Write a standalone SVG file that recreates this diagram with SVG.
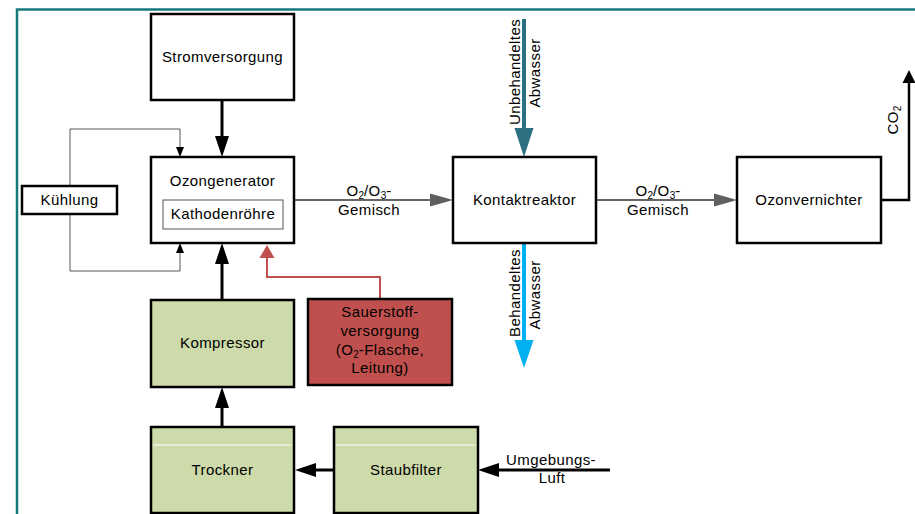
<svg xmlns="http://www.w3.org/2000/svg" width="915" height="514" viewBox="0 0 915 514">
<style>
text{font-family:"Liberation Sans",Arial,sans-serif;font-size:15px;letter-spacing:0.4px;fill:#000;text-anchor:middle}
.box{fill:#fff;stroke:#000;stroke-width:2.5}
.green{fill:#cddaa9;stroke:#000;stroke-width:2.5}
.red{fill:#c0504d;stroke:#000;stroke-width:2.5}
.inner{fill:#fff;stroke:#555;stroke-width:1}
.hl{stroke:#fff;stroke-width:1}
.blk{fill:none;stroke:#000;stroke-width:3}
.thin{fill:none;stroke:#555;stroke-width:1}
.gray{fill:none;stroke:#666;stroke-width:2}
.redl{fill:none;stroke:#c0504d;stroke-width:2}
.teal{fill:none;stroke:#2c7082;stroke-width:4}
.blue{fill:none;stroke:#00b0f0;stroke-width:4}
.sub{font-size:10px;letter-spacing:0}
</style>
<defs>
<marker id="mBig" markerUnits="userSpaceOnUse" markerWidth="21" markerHeight="14" refX="0" refY="7" orient="auto" overflow="visible"><path d="M0,0 L21,7 L0,14 Z" fill="#000"/></marker>
<marker id="mSmall" markerUnits="userSpaceOnUse" markerWidth="10" markerHeight="8" refX="0" refY="4" orient="auto" overflow="visible"><path d="M0,0 L10,4 L0,8 Z" fill="#000"/></marker>
<marker id="mGray" markerUnits="userSpaceOnUse" markerWidth="23" markerHeight="13" refX="0" refY="6.5" orient="auto" overflow="visible"><path d="M0,0 L23,6.5 L0,13 Z" fill="#5f5f5f"/></marker>
<marker id="mTeal" markerUnits="userSpaceOnUse" markerWidth="29" markerHeight="19" refX="0" refY="9.5" orient="auto" overflow="visible"><path d="M0,0 L29,9.5 L0,19 Z" fill="#2c7082"/></marker>
<marker id="mBlue" markerUnits="userSpaceOnUse" markerWidth="28" markerHeight="19" refX="0" refY="9.5" orient="auto" overflow="visible"><path d="M0,0 L28,9.5 L0,19 Z" fill="#00b0f0"/></marker>
<marker id="mRed" markerUnits="userSpaceOnUse" markerWidth="13" markerHeight="15" refX="0" refY="7.5" orient="auto" overflow="visible"><path d="M0,0 L13,7.5 L0,15 Z" fill="#c0504d"/></marker>
<marker id="mCO2" markerUnits="userSpaceOnUse" markerWidth="13" markerHeight="13" refX="0" refY="6.5" orient="auto" overflow="visible"><path d="M0,0 L13,6.5 L0,13 Z" fill="#000"/></marker>
</defs>
<path d="M17,514 V9.5 H915" fill="none" stroke="#17787a" stroke-width="2.5"/>
<g id="connectors">
<path class="blk" d="M222,100 V136" marker-end="url(#mBig)"/>
<path class="blk" d="M222,300 V264" marker-end="url(#mBig)"/>
<path class="blk" d="M222,427 V408" marker-end="url(#mBig)"/>
<path class="blk" d="M334,470 H316" marker-end="url(#mBig)"/>
<path class="blk" d="M610,470 H499" marker-end="url(#mBig)"/>
<path class="thin" d="M70,186 V129 H180 V147" marker-end="url(#mSmall)"/>
<path class="thin" d="M70,214 V271 H180 V253" marker-end="url(#mSmall)"/>
<path class="redl" d="M380,299 V277 H267 V258" marker-end="url(#mRed)"/>
<path class="gray" d="M294,200 H430" marker-end="url(#mGray)"/>
<path class="gray" d="M596,200 H714" marker-end="url(#mGray)"/>
<path class="teal" d="M524,19 V128" marker-end="url(#mTeal)"/>
<path class="blue" d="M524,243 V340" marker-end="url(#mBlue)"/>
<path class="blk" style="stroke-width:2.5" d="M881,200 H909 V83" marker-end="url(#mCO2)"/>
<text x="369" y="196">O<tspan class="sub" dy="3">2</tspan><tspan dy="-3">/O</tspan><tspan class="sub" dy="3">3</tspan><tspan dy="-3">-</tspan></text>
<text x="369" y="215">Gemisch</text>
<text x="658" y="196">O<tspan class="sub" dy="3">2</tspan><tspan dy="-3">/O</tspan><tspan class="sub" dy="3">3</tspan><tspan dy="-3">-</tspan></text>
<text x="658" y="215">Gemisch</text>
<text transform="translate(520,72) rotate(-90)">Unbehandeltes</text>
<text transform="translate(540,73) rotate(-90)">Abwasser</text>
<text transform="translate(520,293) rotate(-90)">Behandeltes</text>
<text transform="translate(540,295) rotate(-90)">Abwasser</text>
<text transform="translate(898,120) rotate(-90)">CO<tspan class="sub" dy="3">2</tspan></text>
<text x="551" y="465">Umgebungs-</text>
<text x="552" y="483">Luft</text>
</g>
<g id="strom"><rect class="box" x="151" y="14" width="143" height="86"/><text x="222.5" y="62">Stromversorgung</text></g>
<g id="ozongen"><rect class="box" x="151" y="157" width="143" height="86"/><text x="222.5" y="186">Ozongenerator</text>
<rect class="inner" x="163" y="200" width="120" height="29"/><text x="223" y="219">Kathodenröhre</text></g>
<g id="kuehlung"><rect class="box" x="22" y="186" width="95" height="28"/><text x="69.5" y="205">Kühlung</text></g>
<g id="kompressor"><rect class="green" x="151" y="300" width="143" height="87"/><text x="222.5" y="348">Kompressor</text></g>
<g id="trockner"><rect class="green" x="151" y="427" width="143" height="86"/><line class="hl" x1="153" y1="445" x2="292" y2="445"/><text x="222.5" y="475">Trockner</text></g>
<g id="staubfilter"><rect class="green" x="334" y="427" width="144" height="86"/><line class="hl" x1="336" y1="445" x2="476" y2="445"/><text x="406" y="475">Staubfilter</text></g>
<g id="sauerstoff"><rect class="red" x="308" y="299" width="144" height="86"/>
<text x="380" y="317">Sauerstoff-</text><text x="380" y="336">versorgung</text>
<text x="380" y="355">(O<tspan class="sub" dy="3">2</tspan><tspan dy="-3">-Flasche,</tspan></text><text x="380" y="373">Leitung)</text></g>
<g id="kontakt"><rect class="box" x="453" y="157" width="143" height="86"/><text x="524.5" y="205">Kontaktreaktor</text></g>
<g id="ozonvern"><rect class="box" x="737" y="157" width="144" height="86"/><text x="809" y="205">Ozonvernichter</text></g>
</svg>
